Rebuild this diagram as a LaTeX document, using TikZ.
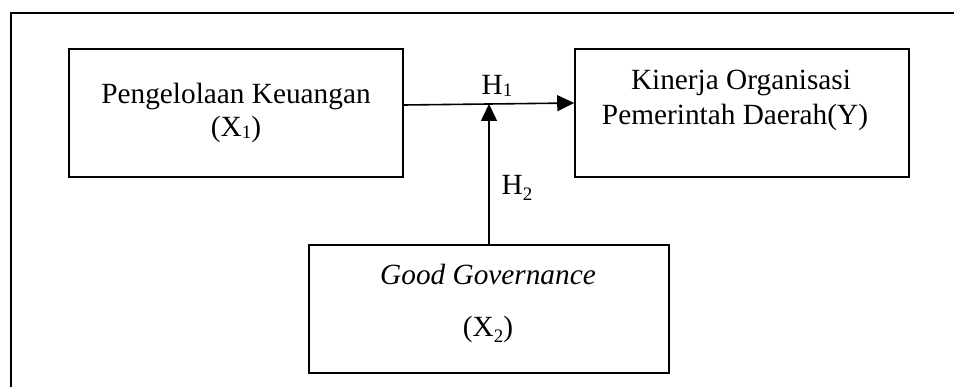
\documentclass[tikz,border=0pt]{standalone}
\usepackage{fontspec}
\setmainfont{Liberation Serif}
\usetikzlibrary{arrows.meta}
\newcommand{\subone}[1]{\raisebox{-1.5pt}{\fontsize{19}{19}\selectfont #1}}
\newcommand{\subtwo}[1]{\raisebox{-6pt}{\fontsize{19}{19}\selectfont #1}}
\begin{document}
\begin{tikzpicture}[x=1pt,y=-1pt,
  box/.style={draw,line width=1.6pt,rectangle,inner sep=0pt},
  txt/.style={anchor=base,inner sep=0pt,font=\fontsize{29.3}{35}\selectfont},
  arr/.style={line width=1.6pt,-{Triangle[length=17pt,width=16pt]}}]
\useasboundingbox (0,0) rectangle (954,387);
\fill[white] (0,0) rectangle (954,387);
\draw[line width=1.8pt] (11,390) -- (11,13) -- (960,13);
\node[box,minimum width=334pt,minimum height=128pt] (x1) at (236,113) {};
\node[box,minimum width=334pt,minimum height=128pt] (y) at (742,113) {};
\node[box,minimum width=360pt,minimum height=128pt] (x2) at (489,309) {};
\node[txt] (t1a) at (236,104) {Pengelolaan Keuangan};
\node[txt] (t1b) at (236,137) {(X\subone{1})};
\node[txt] (tya) at (741,90) {Kinerja Organisasi};
\node[txt] (tyb) at (735,125) {Pemerintah Daerah(Y)};
\node[txt] (t2a) at (488,285) {\itshape Good Governance};
\node[txt] (t2b) at (488,337) {(X\subtwo{2})};
\coordinate (j) at (489,104);
\draw[arr] (x1.east |- 0,105) -- (y.west |- 0,103);
\draw[arr] (x2.north -| j) -- (j);
\node[txt] (h1) at (497,95) {H\subone{1}};
\node[txt] (h2) at (517,195) {H\subtwo{2}};
\end{tikzpicture}
\end{document}
